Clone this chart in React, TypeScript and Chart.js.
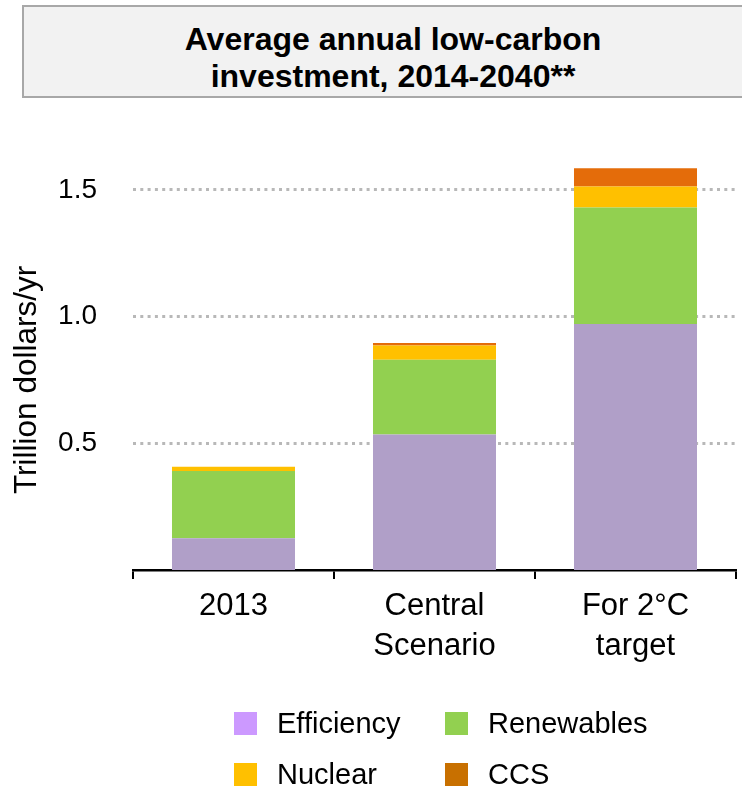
import React, { useEffect, useRef } from "react";
import { Chart, registerables } from "chart.js";

Chart.register(...registerables);

const categories: (string | string[])[] = ["2013", ["Central", "Scenario"], ["For 2°C", "target"]];
const efficiency = [0.125, 0.535, 0.971];
const renewables = [0.266, 0.295, 0.459];
const nuclear = [0.016, 0.056, 0.083];
const ccs = [0, 0.01, 0.072];
const yTicks = [0.5, 1.0, 1.5];

const seriesNames = ["Efficiency", "Renewables", "Nuclear", "CCS"];
const barColors = ["#b09fc8", "#92d050", "#ffc000", "#e46c0a"];
const legendColors = ["#cc99ff", "#92d050", "#ffc000", "#c87000"];

const FONT = "'Liberation Sans', Arial, sans-serif";

const yTitlePlugin = {
  id: "yTitlePlugin",
  afterDraw(chart: any) {
    const ctx = chart.ctx;
    const y = chart.scales.y.getPixelForValue(0.75);
    ctx.save();
    ctx.translate(27, y);
    ctx.rotate(-Math.PI / 2);
    ctx.font = `31.5px ${FONT}`;
    ctx.fillStyle = "#000";
    ctx.textAlign = "center";
    ctx.textBaseline = "middle";
    ctx.fillText("Trillion dollars/yr", 0, 0);
    ctx.restore();
  },
};

export default function App() {
  const ref = useRef<HTMLCanvasElement | null>(null);
  useEffect(() => {
    if (!ref.current) return;
    const values = [efficiency, renewables, nuclear, ccs];
    const chart = new Chart(ref.current, {
      type: "bar",
      data: {
        labels: categories,
        datasets: seriesNames.map((n, i) => ({
          label: n,
          data: values[i],
          backgroundColor: barColors[i],
          borderWidth: 0,
          barPercentage: 0.612,
          categoryPercentage: 1,
        })),
      },
      options: {
        animation: false,
        responsive: false,
        maintainAspectRatio: false,
        layout: { padding: { top: 0, right: 6, left: 0, bottom: 0 } },
        plugins: { legend: { display: false }, tooltip: { enabled: false }, title: { display: false } },
        scales: {
          x: {
            stacked: true,
            offset: true,
            grid: {
              display: true,
              offset: true,
              drawOnChartArea: false,
              drawTicks: true,
              tickLength: 9,
              color: "#000",
              lineWidth: 2,
            },
            border: { display: true, color: "#000", width: 2.5 },
            ticks: {
              color: "#000",
              font: { family: FONT, size: 31, lineHeight: 1.3 },
              padding: 7,
              maxRotation: 0,
              autoSkip: false,
            },
            afterFit(scale: any) {
              scale.height = 130;
            },
          },
          y: {
            stacked: true,
            min: 0,
            max: 1.646,
            afterBuildTicks(axis: any) {
              axis.ticks = yTicks.map((v) => ({ value: v }));
            },
            afterFit(scale: any) {
              scale.width = 133;
            },
            grid: {
              drawTicks: false,
              color: "#b8b8b8",
              lineWidth: 3,
            },
            border: { display: false, dash: [3, 4.3] },
            ticks: {
              color: "#000",
              font: { family: FONT, size: 28 },
              padding: 36,
              callback: (v: any) => Number(v).toFixed(1),
            },
          },
        },
      },
      plugins: [yTitlePlugin],
    } as any);
    return () => chart.destroy();
  }, []);

  return (
    <div style={{ position: "absolute", left: 0, top: 0, width: 742, height: 790, overflow: "hidden", background: "#fff", fontFamily: FONT }}>
      <div
        style={{
          position: "absolute",
          left: 22,
          top: 5,
          width: 742,
          height: 93,
          boxSizing: "border-box",
          background: "#f2f2f2",
          border: "2px solid #a8a8a8",
          paddingTop: 14,
          textAlign: "center",
          fontWeight: "bold",
          fontSize: 32,
          lineHeight: "37px",
          color: "#000",
        }}
      >
        Average annual low-carbon
        <br />
        investment, 2014-2040**
      </div>
      <canvas ref={ref} width={742} height={600} style={{ position: "absolute", left: 0, top: 100, width: 742, height: 600 }} />
      <div style={{ position: "absolute", left: 234, top: 698, display: "grid", gridTemplateColumns: "211px 200px", gridAutoRows: "51px" }}>
        {seriesNames.map((n, i) => (
          <div key={n} style={{ display: "flex", alignItems: "center", fontSize: 29, color: "#000" }}>
            <span style={{ display: "inline-block", width: 23, height: 23, background: legendColors[i], marginRight: 20, flex: "none" }} />
            <span>{n}</span>
          </div>
        ))}
      </div>
    </div>
  );
}
